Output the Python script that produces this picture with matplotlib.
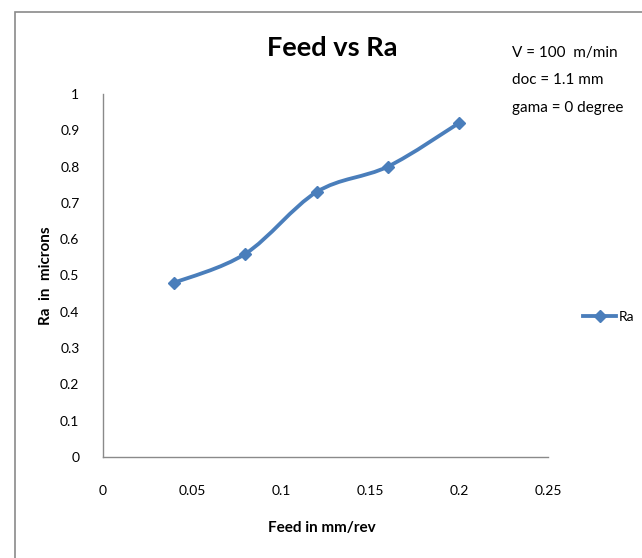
import matplotlib
matplotlib.use('Agg')
import matplotlib.pyplot as plt
from matplotlib.path import Path
from matplotlib.patches import PathPatch, Rectangle
from matplotlib.lines import Line2D

# data
feed = [0.04, 0.08, 0.12, 0.16, 0.2]
ra = [0.48, 0.56, 0.73, 0.80, 0.92]
x_ticks = [0, 0.05, 0.1, 0.15, 0.2, 0.25]
y_ticks = [0, 0.1, 0.2, 0.3, 0.4, 0.5, 0.6, 0.7, 0.8, 0.9, 1]
notes = ['V = 100  m/min', 'doc = 1.1 mm', 'gama = 0 degree']

BLUE = '#4a7ebb'
GREY = '#8a8a8a'

# Lato is the closest thing to Calibri that is installed
plt.rcParams['font.family'] = ['Lato', 'DejaVu Sans']


# smooth line like excel (bezier through points)
def smooth_path(xs, ys):
    pts = list(zip(xs, ys))
    verts = [pts[0]]
    codes = [Path.MOVETO]
    n = len(pts)
    for i in range(n - 1):
        p0 = pts[i - 1] if i > 0 else pts[i]
        p1 = pts[i]
        p2 = pts[i + 1]
        p3 = pts[i + 2] if i + 2 < n else pts[i + 1]
        c1 = (p1[0] + (p2[0] - p0[0]) / 6, p1[1] + (p2[1] - p0[1]) / 6)
        c2 = (p2[0] - (p3[0] - p1[0]) / 6, p2[1] - (p3[1] - p1[1]) / 6)
        verts += [c1, c2, p2]
        codes += [Path.CURVE4] * 3
    return Path(verts, codes)


W, H = 642, 558
fig = plt.figure(figsize=(W / 100, H / 100), dpi=100)
ax = fig.add_axes([103 / W, 1 - 457 / H, 445 / W, 363 / H])

ax.add_patch(PathPatch(smooth_path(feed, ra), facecolor='none', edgecolor=BLUE,
                       lw=2.75, capstyle='round', joinstyle='round'))
ax.plot(feed, ra, linestyle='none', marker='D', ms=6.5, color=BLUE)

ax.set_xlim(0, 0.25)
ax.set_ylim(0, 1)
ax.set_xticks(x_ticks)
ax.set_xticklabels(['%g' % v for v in x_ticks])
ax.set_yticks(y_ticks)
ax.set_yticklabels(['%g' % v for v in y_ticks])
ax.tick_params(length=0, labelsize=10)
ax.tick_params(axis='x', pad=20)
ax.tick_params(axis='y', pad=17)

for s in ['top', 'right']:
    ax.spines[s].set_visible(False)
for s in ['left', 'bottom']:
    ax.spines[s].set_color(GREY)
    ax.spines[s].set_linewidth(1.0)

ax.set_xlabel('Feed in mm/rev', fontsize=11, fontweight='bold', va='center')
ax.xaxis.set_label_coords((322 - 103) / 445, (457 - 528) / 363)
ax.set_ylabel('Ra  in  microns', fontsize=11, fontweight='bold', va='center')
ax.yaxis.set_label_coords((46 - 103) / 445, (457 - 276) / 363)

fig.text(332 / W, 1 - 48 / H, 'Feed vs Ra', fontsize=19.5, fontweight='bold',
         ha='center', va='center')

for i, t in enumerate(notes):
    fig.text(512 / W, 1 - (56.7 + 27.5 * i) / H, t, fontsize=11,
             ha='left', va='baseline')

handle = Line2D([], [], color=BLUE, lw=2.75, marker='D', ms=6.5)
fig.legend([handle], ['Ra'], loc='center left', bbox_to_anchor=(583 / W, 1 - 317 / H),
           frameon=False, borderpad=0, borderaxespad=0, handlelength=2.4,
           handletextpad=0.2, prop={'size': 10})

# chart border (cut off on right and bottom)
fig.patches.append(Rectangle((15 / W, -0.1), 1.2, 1 - 12 / H + 0.1, transform=fig.transFigure,
                             facecolor='none', edgecolor=GREY, lw=1.2))

fig.savefig('out.png', dpi=100)
